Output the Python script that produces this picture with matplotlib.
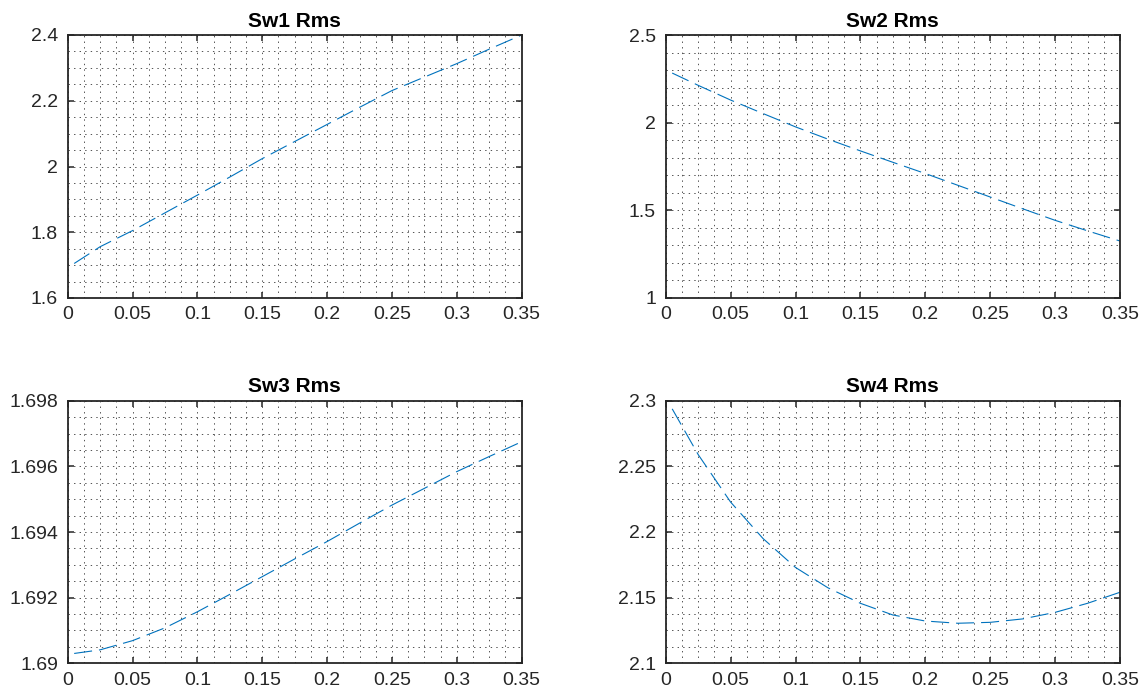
import matplotlib
matplotlib.use("Agg")
import matplotlib.pyplot as plt
from matplotlib.ticker import AutoMinorLocator, MultipleLocator, FuncFormatter

plt.rcParams["font.family"] = ["Liberation Sans", "DejaVu Sans"]
plt.rcParams["lines.scale_dashes"] = False

# values
x = [0.005, 0.025, 0.05, 0.075, 0.1, 0.125, 0.15, 0.175, 0.2,
     0.225, 0.25, 0.275, 0.3, 0.325, 0.35]
sw1 = [1.705, 1.756, 1.805, 1.859, 1.913, 1.968, 2.024, 2.076, 2.128,
       2.180, 2.231, 2.272, 2.313, 2.357, 2.400]
sw2 = [2.283, 2.213, 2.129, 2.052, 1.976, 1.906, 1.839, 1.774, 1.710,
       1.643, 1.576, 1.509, 1.443, 1.383, 1.325]
sw3 = [1.69030, 1.69041, 1.69069, 1.69108, 1.69157, 1.69210, 1.69264, 1.69318,
       1.69371, 1.69427, 1.69482, 1.69533, 1.69584, 1.69630, 1.69675]
sw4 = [2.2938, 2.2590, 2.2228, 2.1950, 2.1730, 2.1575, 2.1457, 2.1368, 2.1322,
       2.1305, 2.1312, 2.1338, 2.1388, 2.1457, 2.1541]

titles = ["Sw1 Rms", "Sw2 Rms", "Sw3 Rms", "Sw4 Rms"]
series = [sw1, sw2, sw3, sw4]
ylims = [(1.6, 2.4), (1.0, 2.5), (1.690, 1.698), (2.1, 2.3)]
ysteps = [0.2, 0.5, 0.002, 0.05]
yminor = [4, 5, 4, 4]

W, H = 1143, 698
fig = plt.figure(figsize=(W / 100, H / 100), dpi=100)
boxes = [
    (67.7, 35, 521.7, 298),
    (665.7, 35, 1120, 298),
    (67.7, 400.7, 521.7, 663.3),
    (665.7, 400.7, 1120, 663.3),
]

fmt = FuncFormatter(lambda v, p: f"{v:g}")
dark = "#262626"

for i in range(4):
    x0, y0, x1, y1 = boxes[i]
    ax = fig.add_axes([x0 / W, 1 - y1 / H, (x1 - x0) / W, (y1 - y0) / H])
    line, = ax.plot(x, series[i], color="#0072BD", linewidth=0.8)
    line.set_dashes([13, 5])
    ax.set_xlim(0, 0.35)
    ax.set_ylim(*ylims[i])
    ax.xaxis.set_major_locator(MultipleLocator(0.05))
    ax.yaxis.set_major_locator(MultipleLocator(ysteps[i]))
    ax.xaxis.set_minor_locator(AutoMinorLocator(4))
    ax.yaxis.set_minor_locator(AutoMinorLocator(yminor[i]))
    ax.xaxis.set_major_formatter(fmt)
    ax.yaxis.set_major_formatter(fmt)
    ax.grid(which="both", linestyle=(0, (1, 3)), color=dark, linewidth=0.7, alpha=0.8)
    ax.tick_params(which="major", direction="in", length=4, width=1.1, color=dark,
                   top=True, right=True, labelsize=14, labelcolor=dark)
    ax.tick_params(axis="x", which="major", pad=6)
    ax.tick_params(axis="y", which="major", pad=7)
    ax.tick_params(which="minor", length=0, top=True, right=True)
    for s in ax.spines.values():
        s.set_linewidth(1.3)
        s.set_color(dark)
    ax.set_title(titles[i], fontsize=15, fontweight="bold", pad=6)

fig.savefig("out.png", dpi=100)
